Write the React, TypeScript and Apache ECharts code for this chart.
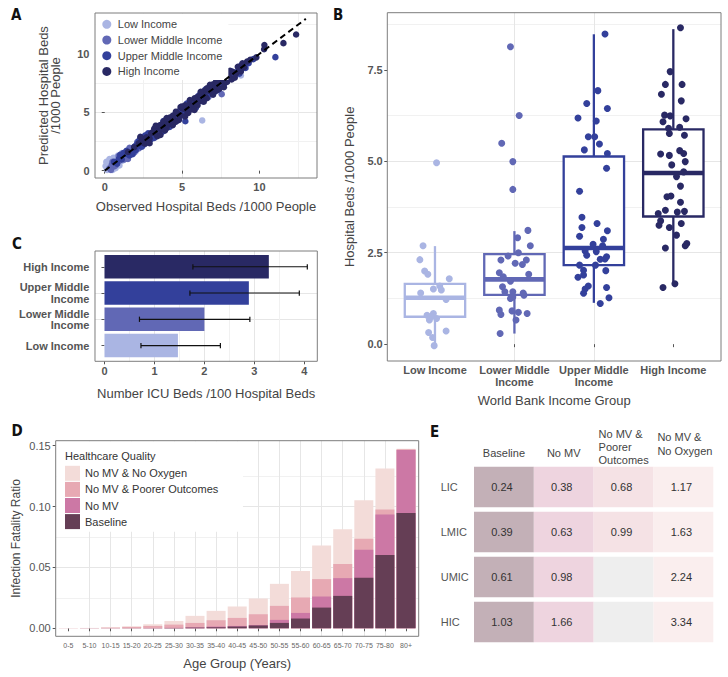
import React, { useEffect, useRef } from 'react';
import * as echarts from 'echarts';

const FONT = "'Liberation Sans', Arial, Helvetica, sans-serif";
const LETTER_FONT = "'Liberation Sans Narrow', 'DejaVu Sans Condensed', 'Liberation Sans', sans-serif";

const incomeGroups = ['Low Income', 'Lower Middle Income', 'Upper Middle Income', 'High Income'];
const incomeColors = ['#aab5e3', '#6168b5', '#33409b', '#292964'];

// ---------- Panel A: observed vs predicted hospital beds ----------
const aLowIncome: [number, number][] = [
  [0.12, 0.25], [0.2, 0.55], [0.28, 0.82], [0.35, 0.3], [0.42, 0.62], [0.5, 0.95], [0.55, 0.4],
  [0.63, 0.75], [0.7, 1.02], [0.78, 0.55], [0.85, 0.9], [0.95, 1.2], [1.05, 0.8], [1.15, 1.3],
  [1.3, 1.05], [1.45, 1.55], [1.6, 1.35], [1.9, 1.75], [2.3, 2.05], [2.7, 2.55], [3.2, 2.9],
  [4.9, 4.75], [6.3, 4.3], [8.8, 8.15], [0.25, 0.18], [0.9, 0.6],
  [0.05, 0.4], [0.15, 0.05], [0.3, 0.55], [0.45, 0.15], [0.6, 0.5], [0.75, 1.15], [0.4, 0.85],
  [1.0, 1.05], [1.2, 0.9], [0.65, 0.25], [0.18, 0.7], [0.85, 1.3], [1.7, 1.9], [2.0, 1.65],
  [0.1, 0.75], [0.3, 1.0], [0.55, 1.1], [0.7, 0.2], [0.95, 0.45], [1.1, 1.5], [0.5, 0.05]
];
const aLowerMiddle: [number, number][] = [
  [0.3, 0.2], [0.45, 0.5], [0.6, 0.35], [0.8, 0.7], [0.95, 0.85], [1.1, 1.25], [1.25, 0.95],
  [1.4, 1.5], [1.55, 1.3], [1.7, 1.85], [1.85, 1.6], [2.0, 2.15], [2.2, 1.9], [2.4, 2.5],
  [2.6, 2.3], [2.8, 2.95], [3.0, 2.75], [3.3, 3.4], [3.6, 3.35], [3.9, 4.05], [4.2, 4.0],
  [4.5, 4.6], [4.8, 4.55], [5.0, 5.15], [5.3, 5.05], [5.6, 5.7], [5.9, 5.55], [6.2, 6.3],
  [6.5, 6.6], [7.56, 6.55], [6.9, 6.8], [7.3, 7.45], [7.7, 7.5], [8.1, 8.2], [8.5, 8.3],
  [8.8, 8.65], [2.9, 3.15], [4.1, 4.35],
  [0.5, 0.75], [0.7, 0.45], [1.0, 1.3], [1.3, 1.0], [1.6, 1.95], [1.9, 1.55], [2.1, 2.45],
  [2.5, 2.2], [2.7, 3.05], [3.1, 2.8], [3.5, 3.8], [3.7, 3.3], [4.0, 4.35], [4.4, 4.05],
  [4.7, 5.0], [5.2, 4.85], [5.5, 5.85], [5.8, 5.4], [6.4, 6.1], [7.0, 7.3], [7.9, 7.7],
  [0.4, 0.05], [0.9, 1.25], [1.5, 1.0], [2.3, 2.7], [3.4, 3.0], [3.8, 4.25], [4.6, 4.25],
  [5.4, 5.75], [6.0, 6.35], [6.7, 6.3]
];
const aUpperMiddle: [number, number][] = [
  [0.6, 0.75], [0.9, 1.0], [1.1, 0.95], [1.3, 1.45], [1.5, 1.4], [1.7, 1.55], [1.9, 2.05],
  [2.1, 2.3], [2.3, 2.1], [2.5, 2.65], [2.7, 2.5], [2.9, 3.0], [3.1, 3.25], [3.3, 3.1],
  [3.5, 3.65], [3.7, 3.5], [3.9, 3.95], [4.1, 4.25], [4.3, 4.1], [4.6, 4.75], [4.8, 5.0],
  [5.0, 4.85], [5.21, 4.23], [5.2, 5.35], [5.4, 5.2], [5.6, 5.5], [5.8, 5.9], [6.0, 5.85],
  [6.2, 6.35], [6.4, 6.25], [6.6, 6.7], [6.8, 6.6], [7.0, 7.1], [7.2, 7.05], [7.4, 7.5],
  [7.6, 7.45], [7.8, 7.9], [8.0, 7.85], [8.3, 8.4], [8.6, 8.5], [9.0, 9.05], [9.3, 9.2],
  [9.6, 9.55], [11.03, 9.72], [3.4, 3.8], [2.0, 1.75],
  [1.2, 1.5], [1.6, 1.3], [2.2, 2.55], [2.4, 2.05], [2.8, 3.2], [3.0, 2.7], [3.6, 3.9],
  [3.8, 3.4], [4.4, 4.7], [4.5, 4.15], [4.9, 5.25], [5.1, 4.7], [5.5, 5.85], [5.7, 5.3],
  [6.1, 6.45], [6.3, 5.95], [6.9, 7.2], [7.1, 6.75], [7.5, 7.8], [7.7, 7.35], [8.2, 8.5],
  [8.4, 8.05], [8.8, 9.0], [9.1, 8.8], [0.8, 0.6], [1.4, 1.7],
  [1.0, 1.35], [1.8, 1.4], [2.6, 3.0], [3.2, 2.8], [3.8, 4.25], [4.2, 3.75], [5.3, 5.75],
  [5.9, 5.4], [6.5, 6.95], [7.3, 6.9], [8.0, 8.35], [8.7, 8.3], [4.7, 4.3], [2.3, 2.75]
];
const aHigh: [number, number][] = [
  [1.5, 1.6], [1.9, 2.0], [2.2, 2.35], [2.5, 2.4], [2.7, 2.85], [2.9, 2.75], [3.1, 3.3],
  [3.3, 3.15], [3.5, 3.6], [3.7, 3.55], [3.9, 4.1], [4.1, 3.95], [4.3, 4.45], [4.5, 4.35],
  [4.7, 4.9], [4.9, 4.75], [5.1, 5.3], [5.3, 5.15], [5.5, 5.7], [5.7, 5.55], [5.9, 6.05],
  [6.1, 5.95], [6.3, 6.5], [6.5, 6.35], [6.7, 6.85], [6.9, 6.75], [7.1, 7.25], [7.3, 7.15],
  [7.5, 7.65], [7.7, 7.6], [7.9, 8.05], [8.1, 7.95], [8.3, 8.45], [8.5, 8.35], [8.7, 8.8],
  [9.0, 8.85], [9.4, 9.5], [9.8, 9.7], [10.32, 10.75], [10.3, 10.4], [11.55, 10.92],
  [12.37, 11.66], [6.0, 6.3], [4.4, 4.7], [3.0, 3.2], [7.8, 7.95], [5.0, 5.35],
  [2.4, 2.75], [2.8, 2.45], [3.2, 3.6], [3.4, 2.95], [3.8, 4.2], [4.0, 3.65], [4.6, 5.05],
  [4.8, 4.35], [5.2, 5.6], [5.4, 4.95], [5.8, 6.2], [6.0, 5.6], [6.4, 6.8], [6.6, 6.2],
  [7.0, 7.4], [7.2, 6.85], [7.6, 8.0], [7.4, 7.0], [8.0, 8.3], [8.2, 7.8], [8.6, 8.9],
  [8.8, 8.5], [9.2, 9.35], [3.6, 3.9], [5.6, 5.25], [6.2, 6.55], [6.8, 7.1], [4.2, 4.55],
  [2.6, 2.3], [7.9, 7.6],
  [2.3, 2.9], [2.9, 2.35], [3.3, 3.85], [3.6, 3.05], [4.0, 4.5], [4.4, 3.9], [4.9, 5.45],
  [5.2, 4.65], [5.5, 6.05], [5.8, 5.2], [6.2, 6.75], [6.4, 5.9], [6.8, 7.35], [7.0, 6.5],
  [7.4, 7.95], [7.7, 7.15], [8.1, 8.55], [8.4, 7.95], [8.9, 9.2], [3.9, 3.45], [5.0, 5.5],
  [6.6, 7.05], [4.6, 4.2], [7.2, 7.65]
];
const aIdentityLine: [number, number][] = [[0, 0], [13, 13]];
const aTicks = [0, 5, 10];

// ---------- Panel B: hospital beds by income group ----------
const bAxisLabels = ['Low Income', 'Lower Middle\nIncome', 'Upper Middle\nIncome', 'High Income'];
const bMin = [0.0, 0.29, 1.13, 1.62];
const bQ1 = [0.75, 1.35, 2.16, 3.49];
const bMedian = [1.27, 1.77, 2.63, 4.68];
const bQ3 = [1.65, 2.46, 5.13, 5.87];
const bMax = [2.68, 3.09, 8.47, 8.61];
const bLowPts: [number, number][] = [
  [1.02, 4.96], [0.85, 2.69], [0.81, 2.31], [0.87, 2.0], [0.91, 1.91], [1.18, 1.79], [1.06, 1.59],
  [0.98, 1.51], [0.82, 1.4], [1.14, 1.22], [0.9, 0.79], [0.98, 0.84], [1.02, 0.7], [0.93, 0.66],
  [1.14, 0.36], [0.92, 0.32], [0.97, 0.18], [0.99, -0.04], [1.08, 1.48], [0.95, 0.75]
];
const bLowerMiddlePts: [number, number][] = [
  [1.95, 8.13], [2.06, 6.25], [1.84, 5.49], [1.98, 4.99], [1.98, 4.23], [2.17, 3.11], [2.04, 2.91],
  [2.2, 2.69], [2.05, 2.5], [1.92, 2.41], [1.83, 2.3], [2.15, 2.3], [2.01, 2.21], [2.1, 2.18],
  [1.81, 1.95], [2.18, 1.91], [1.86, 1.84], [1.95, 1.72], [1.85, 1.57], [1.88, 1.43], [1.98, 1.43],
  [2.11, 1.4], [1.95, 1.25], [1.98, 1.29], [1.81, 0.93], [1.97, 0.91], [2.05, 0.87], [2.16, 0.84],
  [1.83, 0.81], [2.02, 0.66], [1.82, 0.29], [2.12, 1.34]
];
const bUpperMiddlePts: [number, number][] = [
  [3.14, 8.48], [3.05, 6.93], [2.91, 6.58], [3.17, 6.44], [2.8, 6.18], [3.03, 6.1], [2.93, 5.67],
  [3.01, 5.67], [3.07, 5.47], [2.88, 5.31], [3.17, 5.21], [3.16, 4.81], [2.82, 4.18], [2.85, 3.47],
  [3.04, 3.3], [2.85, 3.19], [3.17, 3.1], [2.82, 2.95], [3.12, 2.87], [2.99, 2.73], [3.11, 2.69],
  [2.89, 2.55], [3.03, 2.53], [2.91, 2.43], [3.16, 2.39], [3.08, 2.32], [2.82, 2.16], [3.02, 2.16],
  [3.14, 2.33], [2.87, 2.02], [3.15, 2.01], [2.8, 1.83], [2.87, 1.89], [2.93, 1.59], [3.16, 1.55],
  [2.89, 1.51], [2.87, 1.39], [3.19, 1.27], [3.08, 1.11]
];
const bHighPts: [number, number][] = [
  [4.09, 8.65], [3.96, 7.45], [3.9, 7.1], [4.11, 7.1], [3.85, 6.83], [4.1, 6.65], [3.89, 6.26],
  [3.96, 6.24], [4.16, 6.16], [3.87, 6.08], [3.94, 5.9], [4.08, 5.93], [3.95, 5.76], [4.14, 5.71],
  [3.84, 5.2], [3.95, 5.16], [4.08, 5.29], [4.13, 5.21], [4.15, 4.99], [3.98, 4.9], [4.04, 4.58],
  [4.13, 4.71], [4.09, 4.32], [3.92, 4.03], [3.97, 4.05], [4.09, 3.88], [3.9, 3.66], [3.81, 3.57],
  [4.05, 3.61], [4.14, 3.63], [3.84, 3.37], [3.82, 3.25], [4.1, 3.3], [3.95, 3.19], [4.04, 2.98],
  [4.17, 2.75], [4.15, 2.69], [3.9, 2.63], [4.02, 1.65], [3.87, 1.55]
];
const bTicks = [0, 2.5, 5, 7.5];

// ---------- Panel C: ICU beds ----------
const cAxisLabels = ['Low Income', 'Lower Middle\nIncome', 'Upper Middle\nIncome', 'High Income'];
const cMean = [1.47, 2.0, 2.89, 3.29];
const cLower = [0.73, 0.7, 1.71, 1.77];
const cUpper = [2.32, 2.91, 3.9, 4.06];
const cTicks = [0, 1, 2, 3, 4];

// ---------- Panel D: infection fatality ratio by age ----------
const ageGroups = ['0-5', '5-10', '10-15', '15-20', '20-25', '25-30', '30-35', '35-40', '40-45',
  '45-50', '50-55', '55-60', '60-65', '65-70', '70-75', '75-80', '80+'];
const ifrNoOxygen = [0.0002, 0.0003, 0.0008, 0.0016, 0.0033, 0.006, 0.0102, 0.0143, 0.0179, 0.0245,
  0.0365, 0.047, 0.0681, 0.0813, 0.1052, 0.1313, 0.1475];
const ifrPoorer = [0.0001, 0.0002, 0.0005, 0.0011, 0.0019, 0.003, 0.0044, 0.0066, 0.0085, 0.0115,
  0.0184, 0.0253, 0.0404, 0.0527, 0.0736, 0.0975, 0.147];
const ifrNoMV = [0.00003, 0.00005, 0.0001, 0.0001, 0.0002, 0.0004, 0.0008, 0.0014, 0.0019, 0.0027,
  0.0069, 0.0126, 0.0261, 0.0412, 0.0646, 0.0934, 0.1464];
const ifrBaseline = [0.00002, 0.00003, 0.00005, 0.0001, 0.0001, 0.0002, 0.0005, 0.0008, 0.0014, 0.0022,
  0.0044, 0.008, 0.017, 0.0266, 0.0415, 0.0602, 0.0948];
const dScenarioNames = ['No MV & No Oxygen', 'No MV & Poorer Outcomes', 'No MV', 'Baseline'];
const dScenarioColors = ['#f3dcd9', '#e7a9b3', '#cc78a5', '#653e55'];
const dTicks = [0, 0.05, 0.1, 0.15];

// ---------- Panel E: table ----------
const eRows = ['LIC', 'LMIC', 'UMIC', 'HIC'];
const eColumns = ['Baseline', 'No MV', 'No MV & Poorer Outcomes', 'No MV & No Oxygen'];
const eHeaderLines = [['Baseline'], ['No MV'], ['No MV &', 'Poorer', 'Outcomes'], ['No MV &', 'No Oxygen']];
const eBaseline = [0.24, 0.39, 0.61, 1.03];
const eNoMV = [0.38, 0.63, 0.98, 1.66];
const ePoorer = [0.68, 0.99, null, null];
const eNoOxygen = [1.17, 1.63, 2.24, 3.34];
const eColors = ['#c3b0b7', '#eed4df', '#f5e2e5', '#faeeee'];

const GRID_MAJOR = '#e6e6e6';
const GRID_MINOR = '#f1f1f1';
const BORDER = '#7d7d7d';

function isMultiple(v: number, step: number) {
  const r = v / step;
  return Math.abs(r - Math.round(r)) < 1e-6;
}

const boldLabel = { fontFamily: FONT, fontSize: 11, fontWeight: 'bold', color: '#555' };
const titleStyle = { fontFamily: FONT, fontSize: 13, color: '#444' };

function buildOption() {
  const dSeriesValues = [ifrNoOxygen, ifrPoorer, ifrNoMV, ifrBaseline];
  const eValues = [eBaseline, eNoMV, ePoorer, eNoOxygen];
  const eData: any[] = [];
  eRows.forEach((_, r) => {
    eValues.forEach((col, c) => {
      const v = col[r];
      eData.push([c, r, v == null ? NaN : v]);
    });
  });

  const eHeaderRich = eHeaderLines.map((lines) => {
    if (lines.length === 1) return `{s|${lines[0]}}\n{g1| }`;
    if (lines.length === 3) return lines.map((l) => `{m3|${l}}`).join('\n');
    return lines.map((l) => `{m2|${l}}`).join('\n') + '\n{g2| }';
  });

  const borders = [
    [95, 13, 222, 165],
    [387.3, 12.7, 333.7, 348.3],
    [95, 251, 222.3, 110.3],
    [55.7, 440.7, 363, 195.6]
  ];

  const letters: [string, number, number][] = [
    ['A', 11, 7.5], ['B', 333, 7], ['C', 12, 236], ['D', 11.5, 423.5], ['E', 430, 424.5]
  ];

  const bPts = [bLowPts, bLowerMiddlePts, bUpperMiddlePts, bHighPts];
  const aPts = [aLowIncome, aLowerMiddle, aUpperMiddle, aHigh];
  const headerText = { fontFamily: FONT, fontSize: 11, color: '#444' };

  return {
    animation: false,
    backgroundColor: '#fff',
    textStyle: { fontFamily: FONT },
    grid: [
      { left: 95, top: 13, width: 222, height: 165, show: false },
      { left: 387.3, top: 12.7, width: 333.7, height: 348.3, show: false },
      { left: 95, top: 251, width: 222.3, height: 110.3, show: false },
      { left: 55.7, top: 440.7, width: 363, height: 195.6, show: false },
      { left: 474, top: 464.5, width: 239.3, height: 180, show: false }
    ],
    xAxis: [
      {
        gridIndex: 0, type: 'value', min: -0.63, max: 13.72, splitNumber: 3, minInterval: 5, maxInterval: 5,
        axisLine: { show: false },
        axisTick: { show: true, length: 3, lineStyle: { color: '#555' }, customValues: aTicks },
        axisLabel: { ...boldLabel, margin: 3.5, customValues: aTicks, formatter: (v: number) => (isMultiple(v, 5) ? String(v) : '') },
        splitLine: { show: true, showMinLine: false, showMaxLine: false, lineStyle: { color: GRID_MAJOR } },
        minorTick: { show: false, splitNumber: 2 },
        minorSplitLine: { show: true, lineStyle: { color: GRID_MINOR } },
        name: 'Observed Hospital Beds /1000 People', nameLocation: 'middle', nameGap: 21.5, nameTextStyle: titleStyle
      },
      {
        gridIndex: 1, type: 'value', min: 0.4, max: 4.6, splitNumber: 4, minInterval: 1, maxInterval: 1,
        axisLine: { show: false },
        axisTick: { show: true, length: 3, lineStyle: { color: '#555' }, customValues: [1, 2, 3, 4] },
        axisLabel: {
          ...boldLabel, margin: 3.5, lineHeight: 11.7, customValues: [1, 2, 3, 4],
          formatter: (v: number) => (isMultiple(v, 1) && v >= 1 && v <= 4 ? bAxisLabels[Math.round(v) - 1] : '')
        },
        splitLine: { show: true, showMinLine: false, showMaxLine: false, lineStyle: { color: GRID_MAJOR } },
        name: 'World Bank Income Group', nameLocation: 'middle', nameGap: 32.5, nameTextStyle: titleStyle
      },
      {
        gridIndex: 2, type: 'value', min: -0.19, max: 4.26, splitNumber: 4, minInterval: 1, maxInterval: 1,
        axisLine: { show: false },
        axisTick: { show: true, length: 3, lineStyle: { color: '#555' }, customValues: cTicks },
        axisLabel: { ...boldLabel, margin: 4.5, customValues: cTicks, formatter: (v: number) => (isMultiple(v, 1) ? String(v) : '') },
        splitLine: { show: true, showMinLine: false, showMaxLine: false, lineStyle: { color: GRID_MAJOR } },
        minorTick: { show: false, splitNumber: 2 },
        minorSplitLine: { show: true, lineStyle: { color: GRID_MINOR } },
        name: 'Number ICU Beds /100 Hospital Beds', nameLocation: 'middle', nameGap: 25.2, nameTextStyle: titleStyle
      },
      {
        gridIndex: 3, type: 'value', min: 0.4, max: 17.6, splitNumber: 17, minInterval: 1, maxInterval: 1,
        axisLine: { show: false },
        axisTick: { show: true, length: 3, lineStyle: { color: '#555' }, customValues: ageGroups.map((_, i) => i + 1) },
        axisLabel: {
          fontFamily: FONT, fontSize: 7, color: '#666', margin: 5.5, customValues: ageGroups.map((_, i) => i + 1),
          formatter: (v: number) => (isMultiple(v, 1) && v >= 1 && v <= 17 ? ageGroups[Math.round(v) - 1] : '')
        },
        splitLine: { show: true, showMinLine: false, showMaxLine: false, lineStyle: { color: GRID_MAJOR } },
        name: 'Age Group (Years)', nameLocation: 'middle', nameGap: 20.5, nameTextStyle: titleStyle
      },
      {
        gridIndex: 4, type: 'category', position: 'top', data: eColumns,
        axisLine: { show: false }, axisTick: { show: false }, splitLine: { show: false },
        axisLabel: {
          interval: 0, margin: -2, fontFamily: FONT, fontSize: 11, color: '#444',
          formatter: (_v: string, i: number) => eHeaderRich[i],
          rich: {
            s: { ...headerText, lineHeight: 13 },
            g1: { fontSize: 1, lineHeight: 6.7, height: 6.7 },
            m3: { ...headerText, lineHeight: 13, width: 50, align: 'left' },
            m2: { ...headerText, lineHeight: 13.7, width: 52, align: 'left' },
            g2: { fontSize: 1, lineHeight: 8.6, height: 8.6 }
          }
        }
      }
    ],
    yAxis: [
      {
        gridIndex: 0, type: 'value', min: -0.63, max: 13.5, splitNumber: 3, minInterval: 5, maxInterval: 5,
        axisLine: { show: false },
        axisTick: { show: true, length: 3, lineStyle: { color: '#555' }, customValues: aTicks },
        axisLabel: { ...boldLabel, margin: 5.5, customValues: aTicks, formatter: (v: number) => (isMultiple(v, 5) ? String(v) : '') },
        splitLine: { show: true, showMinLine: false, showMaxLine: false, lineStyle: { color: GRID_MAJOR } },
        minorTick: { show: false, splitNumber: 2 },
        minorSplitLine: { show: true, lineStyle: { color: GRID_MINOR } },
        name: 'Predicted Hospital Beds\n/1000 People', nameLocation: 'middle', nameGap: 34,
        nameTextStyle: { ...titleStyle, lineHeight: 11.8 }
      },
      {
        gridIndex: 1, type: 'value', min: -0.46, max: 9.06, splitNumber: 4, minInterval: 2.5, maxInterval: 2.5,
        axisLine: { show: false },
        axisTick: { show: true, length: 3, lineStyle: { color: '#555' }, customValues: bTicks },
        axisLabel: { ...boldLabel, margin: 4.6, customValues: bTicks, formatter: (v: number) => (isMultiple(v, 2.5) ? v.toFixed(1) : '') },
        splitLine: { show: true, showMinLine: false, showMaxLine: false, lineStyle: { color: GRID_MAJOR } },
        minorTick: { show: false, splitNumber: 2 },
        minorSplitLine: { show: true, lineStyle: { color: GRID_MINOR } },
        name: 'Hospital Beds /1000 People', nameLocation: 'middle', nameGap: 31.8, nameTextStyle: titleStyle
      },
      {
        gridIndex: 2, type: 'value', min: 0.4, max: 4.6, splitNumber: 4, minInterval: 1, maxInterval: 1,
        axisLine: { show: false },
        axisTick: { show: true, length: 3, lineStyle: { color: '#555' }, customValues: [1, 2, 3, 4] },
        axisLabel: {
          ...boldLabel, margin: 5.7, lineHeight: 11.3, align: 'right', customValues: [1, 2, 3, 4],
          formatter: (v: number) => (isMultiple(v, 1) && v >= 1 && v <= 4 ? cAxisLabels[Math.round(v) - 1] : '')
        },
        splitLine: { show: true, showMinLine: false, showMaxLine: false, lineStyle: { color: GRID_MAJOR } }
      },
      {
        gridIndex: 3, type: 'value', min: -0.0066, max: 0.1541, splitNumber: 3, minInterval: 0.05, maxInterval: 0.05,
        axisLine: { show: false },
        axisTick: { show: true, length: 3, lineStyle: { color: '#555' }, customValues: dTicks },
        axisLabel: { fontFamily: FONT, fontSize: 11, color: '#555', margin: 5, customValues: dTicks, formatter: (v: number) => (isMultiple(v, 0.05) ? v.toFixed(2) : '') },
        splitLine: { show: true, showMinLine: false, showMaxLine: false, lineStyle: { color: GRID_MAJOR } },
        minorTick: { show: false, splitNumber: 2 },
        minorSplitLine: { show: true, lineStyle: { color: GRID_MINOR } },
        name: 'Infection Fatality Ratio', nameLocation: 'middle', nameGap: 33.7, nameTextStyle: { ...titleStyle, fontSize: 12 }
      },
      {
        gridIndex: 4, type: 'category', data: eRows, inverse: true,
        axisLine: { show: false }, axisTick: { show: false }, splitLine: { show: false },
        axisLabel: { fontFamily: FONT, fontSize: 11, color: '#555', align: 'left', margin: 33.3 }
      }
    ],
    legend: [
      {
        data: incomeGroups, left: 95.5, top: 13.5, orient: 'vertical', icon: 'circle',
        itemWidth: 12, itemHeight: 9, itemGap: 2.5, padding: [4.2, 6, 2, 6.8], backgroundColor: '#fff',
        textStyle: { fontFamily: FONT, fontSize: 11, color: '#444', lineHeight: 13.2 }, selectedMode: false
      },
      {
        data: dScenarioNames, left: 56.2, top: 441.2, orient: 'vertical', icon: 'rect',
        itemWidth: 15, itemHeight: 15, itemGap: 1.1, padding: [24.6, 24.7, 2.6, 8.8], backgroundColor: '#fff',
        textStyle: { fontFamily: FONT, fontSize: 11, color: '#333', lineHeight: 15 }, selectedMode: false
      }
    ],
    series: [
      // Panel A
      ...aPts.map((pts, i) => ({
        type: 'scatter', name: incomeGroups[i], xAxisIndex: 0, yAxisIndex: 0, data: pts,
        symbol: 'circle', symbolSize: 6.5, itemStyle: { color: incomeColors[i], opacity: 1 }, silent: true
      })),
      {
        type: 'line', name: 'identity', xAxisIndex: 0, yAxisIndex: 0, data: aIdentityLine, symbol: 'none',
        lineStyle: { color: '#000', width: 2, type: [6, 4] }, z: 5, silent: true
      },
      // Panel B boxes
      {
        type: 'custom', name: 'boxes', xAxisIndex: 1, yAxisIndex: 1,
        data: bMedian.map((m, i) => [i + 1, bMin[i], bQ1[i], m, bQ3[i], bMax[i]]),
        encode: { x: 0, y: [1, 2, 3, 4, 5] },
        renderItem: (params: any, api: any) => {
          const x = api.value(0);
          const color = incomeColors[params.dataIndex];
          const pLo = api.coord([x, api.value(1)]);
          const pQ1 = api.coord([x, api.value(2)]);
          const pMed = api.coord([x, api.value(3)]);
          const pQ3 = api.coord([x, api.value(4)]);
          const pHi = api.coord([x, api.value(5)]);
          const left = api.coord([x - 0.38, 0])[0];
          const right = api.coord([x + 0.38, 0])[0];
          const lw = 2.3;
          return {
            type: 'group',
            children: [
              { type: 'line', shape: { x1: pHi[0], y1: pHi[1], x2: pQ3[0], y2: pQ3[1] }, style: { stroke: color, lineWidth: lw } },
              { type: 'line', shape: { x1: pQ1[0], y1: pQ1[1], x2: pLo[0], y2: pLo[1] }, style: { stroke: color, lineWidth: lw } },
              { type: 'rect', shape: { x: left, y: pQ3[1], width: right - left, height: pQ1[1] - pQ3[1] }, style: { fill: '#fff', stroke: color, lineWidth: lw } },
              { type: 'line', shape: { x1: left, y1: pMed[1], x2: right, y2: pMed[1] }, style: { stroke: color, lineWidth: 4.6 } }
            ]
          };
        },
        silent: true
      },
      ...bPts.map((pts, i) => ({
        type: 'scatter', name: 'B ' + incomeGroups[i], xAxisIndex: 1, yAxisIndex: 1, data: pts,
        symbol: 'circle', symbolSize: 7, itemStyle: { color: incomeColors[i], opacity: 1 }, clip: false, silent: true
      })),
      // Panel C
      {
        type: 'custom', name: 'icu', xAxisIndex: 2, yAxisIndex: 2,
        data: cMean.map((m, i) => [m, i + 1]),
        encode: { x: 0, y: 1 },
        renderItem: (params: any, api: any) => {
          const v = api.value(0);
          const y = api.value(1);
          const p0 = api.coord([0, y + 0.45]);
          const p1 = api.coord([v, y - 0.45]);
          return {
            type: 'rect', shape: { x: p0[0], y: p0[1], width: p1[0] - p0[0], height: p1[1] - p0[1] },
            style: { fill: incomeColors[params.dataIndex] }
          };
        },
        silent: true
      },
      {
        type: 'custom', name: 'icuError', xAxisIndex: 2, yAxisIndex: 2,
        data: cMean.map((_, i) => [cLower[i], i + 1, cUpper[i]]),
        encode: { x: [0, 2], y: 1 },
        renderItem: (_params: any, api: any) => {
          const y = api.value(1);
          const pLo = api.coord([api.value(0), y]);
          const pHi = api.coord([api.value(2), y]);
          const capTop = api.coord([0, y + 0.1])[1];
          const capBot = api.coord([0, y - 0.1])[1];
          const st = { stroke: '#111', lineWidth: 1.2 };
          return {
            type: 'group',
            children: [
              { type: 'line', shape: { x1: pLo[0], y1: pLo[1], x2: pHi[0], y2: pHi[1] }, style: st },
              { type: 'line', shape: { x1: pLo[0], y1: capTop, x2: pLo[0], y2: capBot }, style: st },
              { type: 'line', shape: { x1: pHi[0], y1: capTop, x2: pHi[0], y2: capBot }, style: st }
            ]
          };
        },
        z: 3, silent: true
      },
      // Panel D
      ...dSeriesValues.map((vals, s) => ({
        type: 'custom', name: dScenarioNames[s], xAxisIndex: 3, yAxisIndex: 3,
        data: vals.map((v, i) => [i + 1, v]),
        encode: { x: 0, y: 1 },
        itemStyle: { color: dScenarioColors[s] },
        renderItem: (_params: any, api: any) => {
          const x = api.value(0);
          const v = api.value(1);
          const p0 = api.coord([x - 0.45, v]);
          const p1 = api.coord([x + 0.45, 0]);
          return {
            type: 'rect', shape: { x: p0[0], y: p0[1], width: p1[0] - p0[0], height: p1[1] - p0[1] },
            style: { fill: dScenarioColors[s] }
          };
        },
        silent: true
      })),
      // Panel E
      {
        type: 'custom', name: 'table', xAxisIndex: 4, yAxisIndex: 4, data: eData,
        encode: { x: 0, y: 1 },
        renderItem: (_params: any, api: any) => {
          const col = api.value(0);
          const row = api.value(1);
          const val = api.value(2);
          const c = api.coord([col, row]);
          const s = api.size([1, 1]);
          const w = s[0];
          const h = s[1] * 0.9;
          const empty = val == null || isNaN(val);
          return {
            type: 'group',
            children: [
              { type: 'rect', shape: { x: c[0] - w / 2, y: c[1] - h / 2, width: w, height: h }, style: { fill: empty ? '#eeeeee' : eColors[col] } },
              {
                type: 'text', x: c[0] - 2, y: c[1],
                style: { text: empty ? '' : Number(val).toFixed(2), align: 'center', verticalAlign: 'middle', fill: '#333', fontSize: 11, fontFamily: FONT }
              }
            ]
          };
        },
        silent: true
      }
    ],
    graphic: [
      ...borders.map((b) => ({
        type: 'rect', z: 6, silent: true,
        shape: { x: b[0], y: b[1], width: b[2], height: b[3] },
        style: { fill: 'none', stroke: BORDER, lineWidth: 1 }
      })),
      ...letters.map(([t, x, y]) => ({
        type: 'text', x, y, z: 10, silent: true,
        style: { text: t, fontFamily: LETTER_FONT, fontSize: 15, fontWeight: 'bold', fill: '#111', align: 'left', verticalAlign: 'top' }
      })),
      {
        type: 'text', x: 65, y: 455.7, z: 10, silent: true,
        style: { text: 'Healthcare Quality', fontFamily: FONT, fontSize: 11, fill: '#333', align: 'left', verticalAlign: 'middle' }
      }
    ]
  };
}

export default function App() {
  const ref = useRef<HTMLDivElement>(null);
  useEffect(() => {
    if (!ref.current) return;
    const chart = echarts.init(ref.current, undefined, { renderer: 'svg' });
    chart.setOption(buildOption() as any);
    return () => chart.dispose();
  }, []);
  return (
    <div
      ref={ref}
      style={{ position: 'fixed', left: 0, top: 0, width: 728, height: 677, background: '#fff' }}
    />
  );
}
